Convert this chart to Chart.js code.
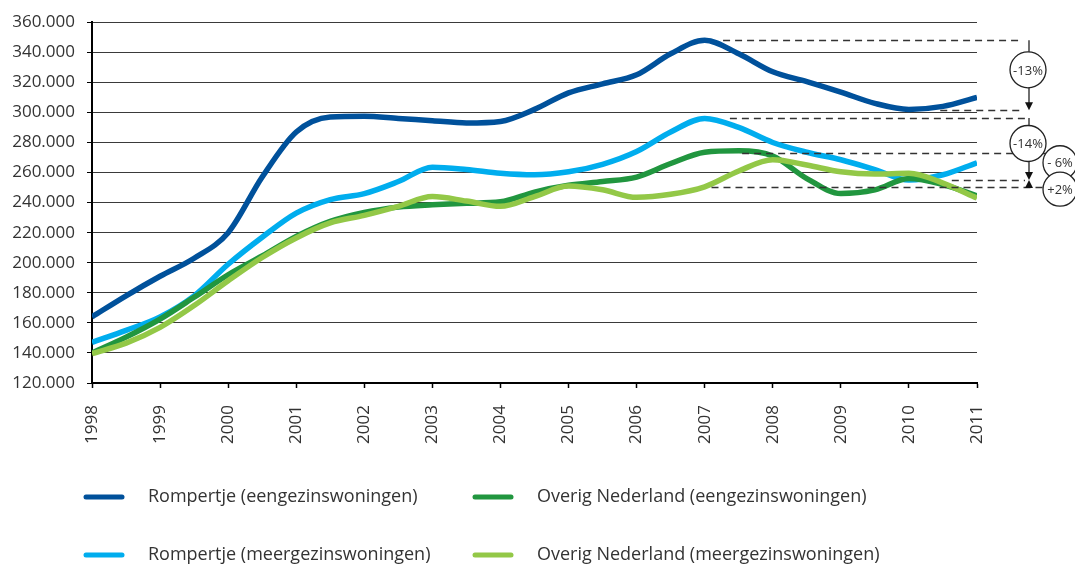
<!DOCTYPE html>
<html>
<head>
<meta charset="utf-8">
<script src="https://cdn.jsdelivr.net/npm/chart.js@4"></script>
<style>
  html, body { margin: 0; padding: 0; background: #fff; }
</style>
</head>
<body>
<canvas id="prijsChart" width="1075" height="566"></canvas>
<script>
// halfjaarlijkse punten
const jaren = [1998, 1998.5, 1999, 1999.5, 2000, 2000.5, 2001, 2001.5, 2002, 2002.5, 2003, 2003.5, 2004, 2004.5,
  2005, 2005.5, 2006, 2006.5, 2007, 2007.5, 2008, 2008.5, 2009, 2009.5, 2010, 2010.5, 2011];

const rompertjeEengezins = [164000, 178000, 191000, 203000, 220000, 257000, 287000, 297000, 297500, 296000, 294500, 293000, 294000, 302000,
  313000, 319000, 325000, 339000, 348000, 339000, 327000, 320500, 313500, 306000, 302000, 304000, 310000];
const overigEengezins = [140000, 150500, 162500, 177000, 192000, 204500, 217500, 227500, 233500, 237000, 238500, 239500, 240500, 247000,
  251500, 254000, 257000, 266000, 273500, 274500, 271000, 256000, 246000, 248500, 256000, 252000, 244500];
const rompertjeMeergezins = [147000, 155000, 164000, 178000, 199000, 217000, 233000, 242000, 246000, 254000, 263500, 262000, 259500, 258500,
  260500, 265500, 274000, 287000, 296000, 290000, 280000, 273500, 268500, 262000, 255000, 258500, 266500];
const overigMeergezins = [139500, 146500, 157000, 171500, 188000, 203500, 216500, 226500, 231500, 237500, 244000, 241000, 237500, 244000,
  251000, 248500, 243500, 245500, 250500, 261000, 268500, 265000, 260500, 259000, 259500, 253000, 243000];

const reeksNamen = ['Rompertje (eengezinswoningen)', 'Overig Nederland (eengezinswoningen)',
  'Rompertje (meergezinswoningen)', 'Overig Nederland (meergezinswoningen)'];
const reeksData = [rompertjeEengezins, overigEengezins, rompertjeMeergezins, overigMeergezins];
const reeksKleuren = ['#00519B', '#21963F', '#00ADEE', '#93C847'];
const reeksVolgorde = [0, 2, 3, 1]; // lager = bovenop

// stippellijnen: niveau, startjaar
const niveaus = [
  { waarde: 348000, vanaf: 2007.27, tot: 46 },
  { waarde: 301500, vanaf: 2010.46, tot: 46 },
  { waarde: 296300, vanaf: 2007.37, tot: 50 },
  { waarde: 273300, vanaf: 2007.55, tot: 80 },
  { waarde: 255000, vanaf: 2010.63, tot: 48 },
  { waarde: 250300, vanaf: 2007.10, tot: 70 }
];
// pijlen met percentage
const pijlen = [
  { van: 348000, naar: 301500, cirkel: 328300, tekst: '-13%' },
  { van: 296300, naar: 255000, cirkel: 279300, tekst: '-14%' },
  { van: 250300, naar: 255000, cirkel: null, tekst: null }
];
const losseCirkels = [
  { waarde: 266500, tekst: '- 6%' },
  { waarde: 248900, tekst: '+2%' }
];

Chart.defaults.font.family = "'Open Sans', sans-serif";
Chart.defaults.color = '#333';

function cirkel(ctx, cx, cy, r, tekst) {
  ctx.beginPath();
  ctx.arc(cx, cy, r, 0, Math.PI * 2);
  ctx.fillStyle = '#fff';
  ctx.fill();
  ctx.lineWidth = 1.3;
  ctx.strokeStyle = '#222';
  ctx.stroke();
  ctx.fillStyle = '#333';
  ctx.font = "13px 'Open Sans', sans-serif";
  ctx.textAlign = 'center';
  ctx.textBaseline = 'middle';
  ctx.fillText(tekst, cx, cy + 1);
}

const annotaties = {
  id: 'annotaties',
  afterDatasetsDraw(chart) {
    const { ctx, chartArea, scales: { x, y } } = chart;
    ctx.save();
    ctx.strokeStyle = '#333';
    ctx.lineWidth = 1.3;
    ctx.setLineDash([7, 5]);
    niveaus.forEach(n => {
      const py = Math.round(y.getPixelForValue(n.waarde)) + 0.5;
      ctx.beginPath();
      ctx.moveTo(x.getPixelForValue(n.vanaf), py);
      ctx.lineTo(chartArea.right + n.tot, py);
      ctx.stroke();
    });
    ctx.setLineDash([]);

    const ax = chartArea.right + 52;
    pijlen.forEach(p => {
      const y1 = y.getPixelForValue(p.van);
      const y2 = y.getPixelForValue(p.naar);
      const dir = y2 > y1 ? 1 : -1;
      ctx.strokeStyle = '#222';
      ctx.lineWidth = 1.3;
      ctx.beginPath();
      ctx.moveTo(ax, y1);
      ctx.lineTo(ax, y2 - dir * 7);
      ctx.stroke();
      ctx.fillStyle = '#111';
      ctx.beginPath();
      ctx.moveTo(ax, y2);
      ctx.lineTo(ax - 4, y2 - dir * 8);
      ctx.lineTo(ax + 4, y2 - dir * 8);
      ctx.closePath();
      ctx.fill();
      if (p.cirkel !== null) cirkel(ctx, ax - 1, y.getPixelForValue(p.cirkel), 18, p.tekst);
    });
    losseCirkels.forEach(c => cirkel(ctx, chartArea.right + 83, y.getPixelForValue(c.waarde), 17, c.tekst));
    ctx.restore();
  }
};

const legenda = {
  id: 'legenda',
  afterDraw(chart) {
    const ctx = chart.ctx;
    const kolommen = [84, 473];
    const rijen = [497, 555];
    ctx.save();
    chart.data.datasets.forEach((ds, i) => {
      const lx = kolommen[i % 2];
      const ly = rijen[Math.floor(i / 2)];
      ctx.strokeStyle = ds.borderColor;
      ctx.lineWidth = 5;
      ctx.lineCap = 'round';
      ctx.beginPath();
      ctx.moveTo(lx + 2, ly);
      ctx.lineTo(lx + 38, ly);
      ctx.stroke();
      ctx.fillStyle = '#333';
      ctx.font = "18px 'Open Sans', sans-serif";
      ctx.textAlign = 'left';
      ctx.textBaseline = 'middle';
      ctx.fillText(ds.label, lx + 64, ly);
    });
    ctx.restore();
  }
};

new Chart(document.getElementById('prijsChart'), {
  type: 'line',
  data: {
    datasets: reeksNamen.map((naam, i) => ({
      label: naam,
      data: jaren.map((j, k) => ({ x: j, y: reeksData[i][k] })),
      borderColor: reeksKleuren[i],
      backgroundColor: reeksKleuren[i],
      borderWidth: 5.5,
      pointRadius: 0,
      cubicInterpolationMode: 'monotone',
      borderJoinStyle: 'round',
      order: reeksVolgorde[i]
    }))
  },
  options: {
    responsive: false,
    animation: false,
    layout: { padding: { top: 20, right: 98, bottom: 113, left: 0 } },
    plugins: {
      legend: { display: false },
      tooltip: { enabled: false },
      title: { display: false }
    },
    scales: {
      x: {
        type: 'linear',
        min: 1998,
        max: 2011,
        afterFit: s => { s.height = 70; },
        grid: { drawOnChartArea: false, tickLength: 5, tickColor: '#000', tickWidth: 1.5 },
        border: { color: '#000', width: 2 },
        ticks: {
          stepSize: 1,
          minRotation: 90,
          maxRotation: 90,
          padding: 17,
          font: { size: 17 },
          callback: v => String(v)
        }
      },
      y: {
        min: 120000,
        max: 360000,
        afterFit: s => { s.width = 92; },
        grid: { color: '#3a3a3a', lineWidth: 1, tickLength: 5, tickColor: '#000' },
        border: { color: '#000', width: 2 },
        ticks: {
          stepSize: 20000,
          padding: 12,
          font: { size: 17 },
          callback: v => (v / 1000).toFixed(0) + '.000'
        }
      }
    }
  },
  plugins: [annotaties, legenda]
});
</script>
</body>
</html>
